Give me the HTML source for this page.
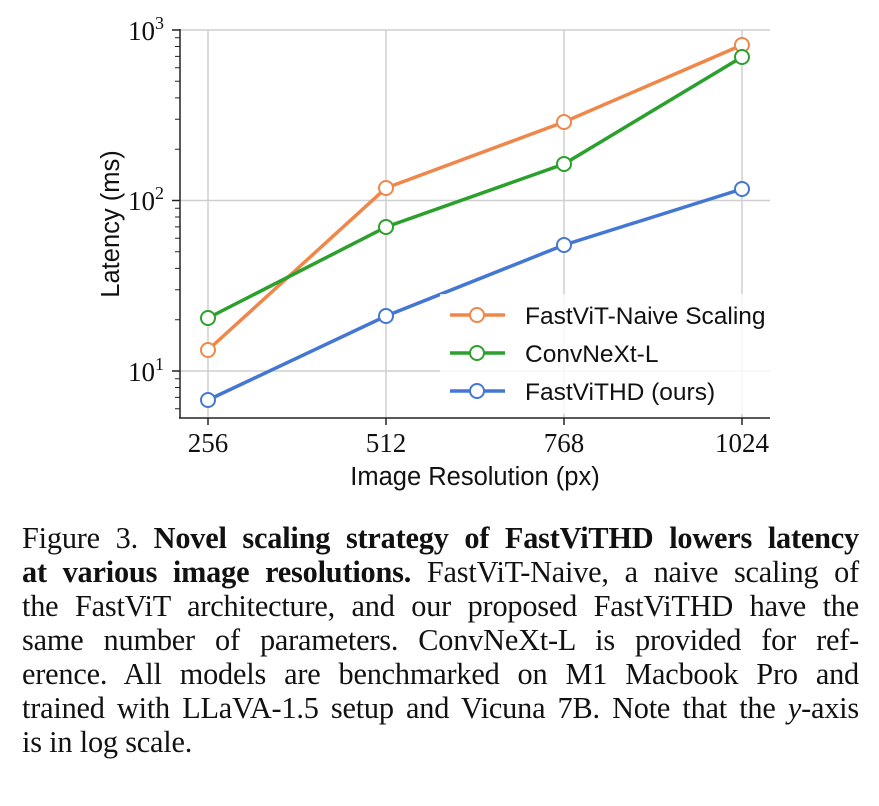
<!DOCTYPE html>
<html><head><meta charset="utf-8"><style>
body{margin:0;background:#fff;width:879px;height:806px;overflow:hidden;position:relative}
.cap{position:absolute;left:22px;width:837px;font-family:"Liberation Serif",serif;font-size:30.3px;color:#111;text-align:justify;text-align-last:justify;white-space:nowrap;line-height:34px;letter-spacing:-0.2px}
.cap.last{text-align-last:left}
</style></head><body>
<svg width="879" height="500" style="position:absolute;left:0;top:0" font-family="Liberation Sans, DejaVu Sans, sans-serif">
<g stroke="#cfcfcf" stroke-width="1.5">
<line x1="208" y1="30" x2="208" y2="418"/><line x1="386" y1="30" x2="386" y2="418"/>
<line x1="564" y1="30" x2="564" y2="418"/><line x1="742" y1="30" x2="742" y2="418"/>
<line x1="180" y1="30" x2="770" y2="30"/><line x1="180" y1="200.5" x2="770" y2="200.5"/><line x1="180" y1="371" x2="770" y2="371"/>
</g>
<g stroke="#222" stroke-width="1.5">
<line x1="180" y1="29" x2="180" y2="418.5"/><line x1="179" y1="418" x2="770" y2="418"/>
<line x1="172" y1="30" x2="180" y2="30"/><line x1="172" y1="200.5" x2="180" y2="200.5"/><line x1="172" y1="371" x2="180" y2="371"/>
<line x1="208" y1="418" x2="208" y2="425"/><line x1="386" y1="418" x2="386" y2="425"/><line x1="564" y1="418" x2="564" y2="425"/><line x1="742" y1="418" x2="742" y2="425"/>
</g>
<g stroke="#222" stroke-width="1">
<path d="M175 319.7H180M175 289.7H180M175 268.4H180M175 251.8H180M175 238.3H180M175 226.9H180M175 217H180M175 208.3H180
M175 149.2H180M175 119.2H180M175 97.9H180M175 81.3H180M175 67.8H180M175 56.4H180M175 46.5H180M175 37.8H180
M175 408.8H180M175 397.4H180M175 387.5H180M175 378.8H180"/>
</g>
<g font-family="Liberation Serif, serif" font-size="27" fill="#111">
<text x="128" y="40">10<tspan font-size="18" dy="-11">3</tspan></text>
<text x="128" y="210">10<tspan font-size="18" dy="-11">2</tspan></text>
<text x="128" y="381">10<tspan font-size="18" dy="-11">1</tspan></text>
<text x="208" y="452" text-anchor="middle">256</text>
<text x="386" y="452" text-anchor="middle">512</text>
<text x="564" y="452" text-anchor="middle">768</text>
<text x="742" y="452" text-anchor="middle">1024</text>
</g>
<text x="475" y="485" font-size="25.5" text-anchor="middle" fill="#111">Image Resolution (px)</text>
<text transform="translate(119,224) rotate(-90)" font-size="25.5" text-anchor="middle" fill="#111">Latency (ms)</text>
<g stroke-width="3.5" fill="none">
<polyline stroke="#f0874a" points="208,350 386,188 564,122 742,45"/>
<polyline stroke="#2ca02c" points="208,318 386,227 564,164 742,57"/>
<polyline stroke="#4477d4" points="208,400 386,316 564,245 742,189"/>
</g>
<g fill="#fff" stroke-width="2">
<g stroke="#f0874a"><circle cx="208" cy="350" r="7"/><circle cx="386" cy="188" r="7"/><circle cx="564" cy="122" r="7"/><circle cx="742" cy="45" r="7"/></g>
<g stroke="#2ca02c"><circle cx="208" cy="318" r="7"/><circle cx="386" cy="227" r="7"/><circle cx="564" cy="164" r="7"/><circle cx="742" cy="57" r="7"/></g>
<g stroke="#4477d4"><circle cx="208" cy="400" r="7"/><circle cx="386" cy="316" r="7"/><circle cx="564" cy="245" r="7"/><circle cx="742" cy="189" r="7"/></g>
</g>
<rect x="440" y="294" width="330" height="120" fill="#fff" fill-opacity="0.8"/>
<g stroke-width="3.5">
<line x1="450" y1="315" x2="505" y2="315" stroke="#f0874a"/>
<line x1="450" y1="353" x2="505" y2="353" stroke="#2ca02c"/>
<line x1="450" y1="391" x2="505" y2="391" stroke="#4477d4"/>
</g>
<g fill="#fff" stroke-width="2">
<circle cx="477" cy="315" r="7" stroke="#f0874a"/><circle cx="477" cy="353" r="7" stroke="#2ca02c"/><circle cx="477" cy="391" r="7" stroke="#4477d4"/>
</g>
<g font-size="24.5" fill="#111">
<text x="525" y="324">FastViT-Naive Scaling</text>
<text x="525" y="362">ConvNeXt-L</text>
<text x="525" y="400">FastViTHD (ours)</text>
</g>
</svg>
<div class="cap" style="top:521px">Figure 3. <b>Novel scaling strategy of FastViTHD lowers latency</b></div>
<div class="cap" style="top:555px"><b>at various image resolutions.</b> FastViT-Naive, a naive scaling of</div>
<div class="cap" style="top:589px">the FastViT architecture, and our proposed FastViTHD have the</div>
<div class="cap" style="top:623px">same number of parameters. ConvNeXt-L is provided for ref-</div>
<div class="cap" style="top:657px">erence. All models are benchmarked on M1 Macbook Pro and</div>
<div class="cap" style="top:691px">trained with LLaVA-1.5 setup and Vicuna 7B. Note that the <i>y</i>-axis</div>
<div class="cap last" style="top:725px">is in log scale.</div>
</body></html>
